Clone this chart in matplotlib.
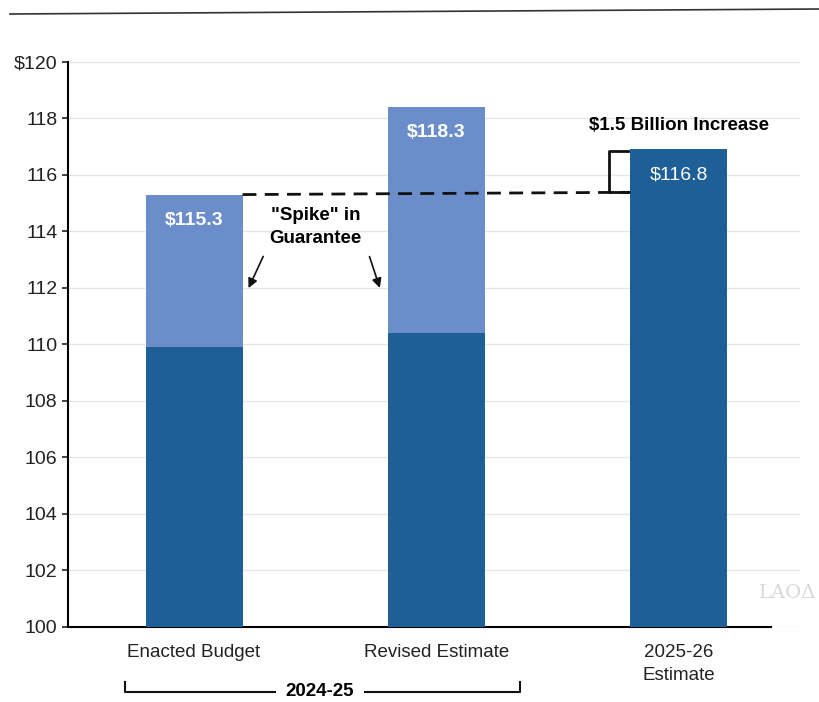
import numpy as np
import matplotlib.pyplot as plt
from matplotlib.lines import Line2D

plt.rcParams['font.family'] = ['Liberation Sans', 'DejaVu Sans']

# datos (miles de millones de dólares)
categorias = ["Enacted Budget", "Revised Estimate", "2025-26\nEstimate"]
base = [109.9, 110.4, 116.9]
total = [115.3, 118.4, 116.9]
etiquetas = ["$115.3", "$118.3", "$116.8"]
yticks = [100, 102, 104, 106, 108, 110, 112, 114, 116, 118, 120]
yticklabels = ["100", "102", "104", "106", "108", "110", "112", "114", "116", "118", "$120"]

oscuro = "#1d5f96"
claro = "#6b8ecb"

fig = plt.figure(figsize=(8.19, 7.02), dpi=100)
ax = fig.add_axes([0.083, 0.107, 0.894, 0.805])

x = np.arange(len(categorias))
ancho = 0.4
spike = [t - b for t, b in zip(total, base)]

ax.bar(x, np.array(base) - 100, bottom=100, width=ancho, color=oscuro, zorder=3)
ax.bar(x[:2], spike[:2], bottom=base[:2], width=ancho, color=claro, zorder=3)

ax.set_xlim(-0.52, 2.5)
ax.set_ylim(100, 120)
ax.set_yticks(yticks)
ax.set_yticklabels(yticklabels, fontsize=14)
ax.set_xticks(x)
ax.set_xticklabels(categorias, fontsize=13.5, color="#222222", linespacing=1.5)
ax.tick_params(axis="x", length=0, pad=12)
ax.tick_params(axis="y", length=4, width=1.2, direction="out", colors="#222222")
ax.grid(axis="y", color="#e6e6e6", linewidth=1, zorder=0)

for s in ["top", "right"]:
    ax.spines[s].set_visible(False)
ax.spines["left"].set_linewidth(1.5)
ax.spines["bottom"].set_linewidth(1.5)
ax.spines["bottom"].set_bounds(-0.52, 2.38)

# etiquetas de valor
ax.text(x[0], total[0] - 0.9, etiquetas[0], color="white", fontsize=14, fontweight="bold", ha="center", va="center", zorder=4)
ax.text(x[1], total[1] - 0.9, etiquetas[1], color="white", fontsize=14, fontweight="bold", ha="center", va="center", zorder=4)
ax.text(x[2], total[2] - 0.9, etiquetas[2], color="white", fontsize=14, ha="center", va="center", zorder=4)

# linea punteada y corchete
ax.plot([x[0] + ancho / 2, x[2] - ancho / 2], [total[0], total[0] + 0.08], color="#111111", lw=2, ls=(0, (5, 3)), zorder=5)
bx = x[2] - ancho / 2 - 0.09
ax.plot([x[2] - ancho / 2 - 0.01, bx, bx, x[2] - ancho / 2 - 0.01],
        [total[2] - 0.05, total[2] - 0.05, total[0] + 0.1, total[0] + 0.1], color="#111111", lw=2, zorder=5)
ax.text(x[2], 117.75, "$1.5 Billion Increase", fontsize=13.5, fontweight="bold", ha="center", va="center")

ax.text(0.5, 114.15, "\"Spike\" in\nGuarantee", fontsize=13.5, fontweight="bold", ha="center", va="center", linespacing=1.4)
ax.annotate("", xy=(x[0] + ancho / 2 + 0.02, 111.9), xytext=(0.29, 113.2),
            arrowprops=dict(arrowstyle="-|>", color="#111111", lw=1.2, mutation_scale=14))
ax.annotate("", xy=(x[1] - ancho / 2 - 0.03, 111.9), xytext=(0.72, 113.2),
            arrowprops=dict(arrowstyle="-|>", color="#111111", lw=1.2, mutation_scale=14))

ax.text(2.45, 101.2, "LAOΔ", fontsize=14, color="#d8d8d8", family="DejaVu Serif", ha="center", va="center")

# corchete 2024-25
fig.add_artist(Line2D([125 / 819, 125 / 819, 275 / 819], [1 - 682 / 702, 1 - 692 / 702, 1 - 692 / 702], color="#111111", lw=1.5))
fig.add_artist(Line2D([365 / 819, 520 / 819, 520 / 819], [1 - 692 / 702, 1 - 692 / 702, 1 - 682 / 702], color="#111111", lw=1.5))
fig.text(320 / 819, 1 - 692 / 702, "2024-25", fontsize=13.5, fontweight="bold", ha="center", va="center")

# linea superior
fig.add_artist(Line2D([10 / 819, 1.0], [1 - 14 / 702, 1 - 9 / 702], color="#333333", lw=1.2))

fig.savefig("out.png", dpi=100, facecolor="white")
